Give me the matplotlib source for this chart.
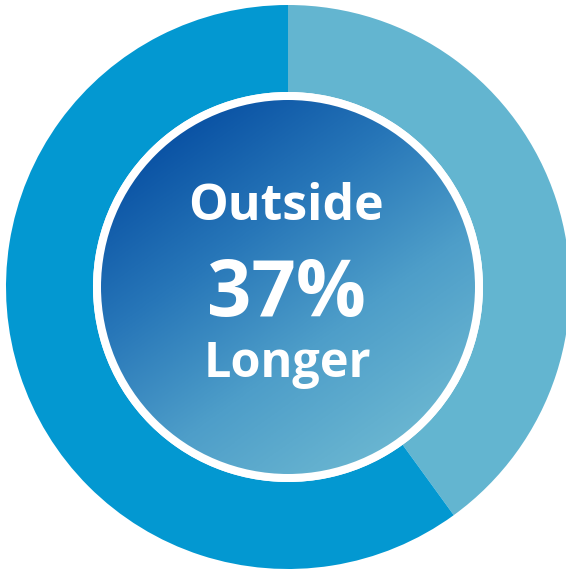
import numpy as np
import matplotlib
matplotlib.use("Agg")
import matplotlib.pyplot as plt
from matplotlib.patches import Circle
from matplotlib.colors import LinearSegmentedColormap

# Data
labels = ["Outside", "Inside"]
values = [40, 60]
colors = ["#63B5D0", "#0398D1"]
center_lines = ["Outside", "37%", "Longer"]

W, H = 566, 569
fig = plt.figure(figsize=(W / 100, H / 100), dpi=100)
ax = fig.add_axes([0, 0, 1, 1])

cx, cy = 288, H - 287
R = 282
ring_w = 87

ax.pie(values, colors=colors, startangle=90, counterclock=False,
       radius=R, center=(cx, cy),
       wedgeprops=dict(width=ring_w, linewidth=0))
ax.set_xlim(0, W)
ax.set_ylim(0, H)
ax.set_aspect("equal")
ax.axis("off")

# white ring
r_in = R - ring_w
ax.add_patch(Circle((cx, cy), r_in, facecolor="white", edgecolor="none", zorder=3))

# gradient inner disk
r_g = r_in - 8
cmap = LinearSegmentedColormap.from_list("g", ["#0850A3", "#2776B8", "#4E9EC9", "#6AB6D1"])
n = 400
xs = np.linspace(cx - r_g, cx + r_g, n)
ys = np.linspace(cy - r_g, cy + r_g, n)
X, Y = np.meshgrid(xs, ys)
p0 = np.array([cx - 120, cy + 160])
p1 = np.array([cx + 110, cy - 160])
d = p1 - p0
t = ((X - p0[0]) * d[0] + (Y - p0[1]) * d[1]) / (d @ d)
t = np.clip(t, 0, 1)
im = ax.imshow(t, cmap=cmap, extent=(cx - r_g, cx + r_g, cy - r_g, cy + r_g),
               origin="lower", zorder=4, interpolation="bilinear")
clip = Circle((cx, cy), r_g, transform=ax.transData)
im.set_clip_path(clip)

font = "Open Sans"
ax.text(cx - 2, H - 220, center_lines[0], color="white", fontsize=36,
        fontweight="bold", family=font, ha="center", va="baseline", zorder=5)
ax.text(cx - 2, H - 316, center_lines[1], color="white", fontsize=56,
        fontweight="bold", family=font, ha="center", va="baseline", zorder=5)
ax.text(cx - 1, H - 377, center_lines[2], color="white", fontsize=35,
        fontweight="bold", family=font, ha="center", va="baseline", zorder=5)

fig.savefig("out.png", dpi=100, facecolor="white")
